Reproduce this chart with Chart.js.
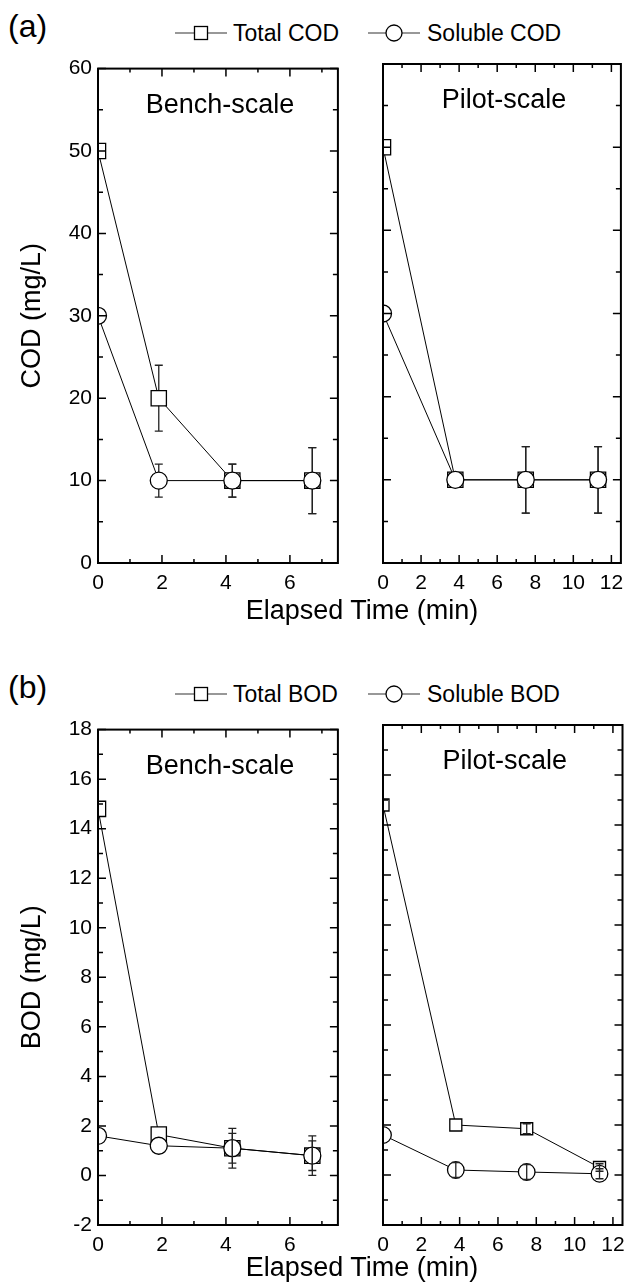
<!DOCTYPE html>
<html>
<head>
<meta charset="utf-8">
<title>COD and BOD removal</title>
<script src="https://cdn.jsdelivr.net/npm/chart.js@4.4.1/dist/chart.umd.min.js"></script>
<style>
  body { margin: 0; background: #fff; }
  #page { position: relative; width: 633px; height: 1283px; overflow: hidden; font-family: "Liberation Sans", Arial, sans-serif; color: #000; }
  canvas { position: absolute; }
  .txt { position: absolute; line-height: 1; white-space: nowrap; }
  svg { position: absolute; }
</style>
</head>
<body>
<div id="page">
  <div class="txt" style="left:8px; top:10px; font-size:32px">(a)</div>
  <svg style="left:175px; top:23px" width="52" height="20">
    <line x1="0" y1="10" x2="52" y2="10" stroke="#333" stroke-width="1.2"/>
    <rect x="19.5" y="3.5" width="13" height="13" fill="#fff" stroke="#000" stroke-width="1.3"/>
  </svg>
  <div class="txt" style="left:233px; top:21.5px; font-size:23px">Total COD</div>
  <svg style="left:368px; top:23px" width="52" height="20">
    <line x1="0" y1="10" x2="52" y2="10" stroke="#333" stroke-width="1.2"/>
    <circle cx="26" cy="10" r="8" fill="#fff" stroke="#000" stroke-width="1.3"/>
  </svg>
  <div class="txt" style="left:427px; top:21.5px; font-size:23px">Soluble COD</div>
  <canvas id="codBench" width="350" height="550" style="left:0; top:50px"></canvas>
  <canvas id="codPilot" width="283" height="550" style="left:350px; top:50px"></canvas>
  <div class="txt" style="left:362px; top:597px; font-size:27px; transform:translateX(-50%)">Elapsed Time (min)</div>

  <div class="txt" style="left:8px; top:671px; font-size:32px">(b)</div>
  <svg style="left:175px; top:684px" width="52" height="20">
    <line x1="0" y1="10" x2="52" y2="10" stroke="#333" stroke-width="1.2"/>
    <rect x="19.5" y="3.5" width="13" height="13" fill="#fff" stroke="#000" stroke-width="1.3"/>
  </svg>
  <div class="txt" style="left:233px; top:682.5px; font-size:23px">Total BOD</div>
  <svg style="left:368px; top:684px" width="52" height="20">
    <line x1="0" y1="10" x2="52" y2="10" stroke="#333" stroke-width="1.2"/>
    <circle cx="26" cy="10" r="8" fill="#fff" stroke="#000" stroke-width="1.3"/>
  </svg>
  <div class="txt" style="left:427px; top:682.5px; font-size:23px">Soluble BOD</div>
  <canvas id="bodBench" width="350" height="551" style="left:0; top:711px"></canvas>
  <canvas id="bodPilot" width="283" height="551" style="left:350px; top:711px"></canvas>
  <div class="txt" style="left:362px; top:1254px; font-size:27px; transform:translateX(-50%)">Elapsed Time (min)</div>
</div>
<script>
// sampling times (min)
const benchTime = [0, 1.9, 4.2, 6.7]
const pilotTime = [0, 3.8, 7.5, 11.3]

// COD (mg/L), with error bar half lengths
const benchTotalCOD = [50, 20, 10, 10]
const benchTotalCODErr = [0, 4, 2, 4]
const benchSolubleCOD = [30, 10, 10, 10]
const benchSolubleCODErr = [0, 2, 2, 4]
const pilotTotalCOD = [50, 10, 10, 10]
const pilotTotalCODErr = [0, 0, 4, 4]
const pilotSolubleCOD = [30, 10, 10, 10]
const pilotSolubleCODErr = [0, 0, 4, 4]

// BOD (mg/L), with error bar half lengths
const benchTotalBOD = [14.8, 1.65, 1.1, 0.8]
const benchTotalBODErr = [0, 0, 0.8, 0.8]
const benchSolubleBOD = [1.6, 1.2, 1.1, 0.8]
const benchSolubleBODErr = [0, 0, 0.6, 0.6]
const pilotTotalBOD = [14.8, 2.0, 1.85, 0.3]
const pilotTotalBODErr = [0, 0, 0.2, 0.15]
const pilotSolubleBOD = [1.6, 0.2, 0.12, 0.05]
const pilotSolubleBODErr = [0, 0.3, 0.3, 0.2]

Chart.defaults.font.family = '"Liberation Sans", Arial, sans-serif'
Chart.defaults.color = '#000'

function toPoints(xs, ys) {
    return xs.map((x, i) => ({x: x, y: ys[i]}))
}

function series(label, xs, ys, errs, shape, radius, order) {
    return {
        label: label,
        data: toPoints(xs, ys),
        errors: errs,
        borderColor: '#000',
        borderWidth: 1,
        pointStyle: shape,
        pointRadius: radius,
        pointHoverRadius: radius,
        pointBorderWidth: 1.3,
        pointBackgroundColor: '#fff',
        pointBorderColor: '#000',
        tension: 0,
        fill: false,
        clip: 0,
        order: order
    }
}

// box round the plot area, inward ticks on all four sides, panel name
const frame = {
    id: 'frame',
    afterDraw(chart, args, opts) {
        let ctx = chart.ctx
        let a = chart.chartArea
        let xs = chart.scales.x
        let ys = chart.scales.y
        ctx.save()
        ctx.strokeStyle = '#000'
        ctx.lineWidth = 1.5
        ctx.beginPath()
        xs.ticks.forEach(t => {
            let p = xs.getPixelForValue(t.value)
            let len = t.value % opts.xMajor === 0 ? 8 : 4
            ctx.moveTo(p, a.bottom)
            ctx.lineTo(p, a.bottom - len)
            ctx.moveTo(p, a.top)
            ctx.lineTo(p, a.top + len)
        })
        ys.ticks.forEach(t => {
            let p = ys.getPixelForValue(t.value)
            let len = t.value % opts.yMajor === 0 ? 8 : 5
            ctx.moveTo(a.left, p)
            ctx.lineTo(a.left + len, p)
            ctx.moveTo(a.right, p)
            ctx.lineTo(a.right - len, p)
        })
        ctx.stroke()
        ctx.lineWidth = 2
        ctx.strokeRect(a.left, a.top, a.right - a.left, a.bottom - a.top)
        ctx.fillStyle = '#000'
        ctx.font = '27px "Liberation Sans", Arial, sans-serif'
        ctx.textAlign = 'center'
        ctx.textBaseline = 'alphabetic'
        ctx.fillText(opts.label, (a.left + a.right) / 2 + 2, a.top + 44)
        ctx.restore()
    }
}

function drawErrorBars(chart) {
    let ctx = chart.ctx
    let ys = chart.scales.y
    ctx.save()
    ctx.strokeStyle = '#222'
    ctx.lineWidth = 1.3
    chart.data.datasets.forEach((ds, i) => {
        let meta = chart.getDatasetMeta(i)
        ds.errors.forEach((e, j) => {
            if (!e) return
            let x = meta.data[j].x
            let v = ds.data[j].y
            let top = ys.getPixelForValue(v + e)
            let bot = ys.getPixelForValue(v - e)
            ctx.beginPath()
            ctx.moveTo(x, top)
            ctx.lineTo(x, bot)
            ctx.moveTo(x - 4, top)
            ctx.lineTo(x + 4, top)
            ctx.moveTo(x - 4, bot)
            ctx.lineTo(x + 4, bot)
            ctx.stroke()
        })
    })
    ctx.restore()
}

const errorBars = {
    id: 'errorBars',
    beforeDatasetsDraw(chart, args, opts) {
        if (!opts.onTop) drawErrorBars(chart)
    },
    afterDatasetsDraw(chart, args, opts) {
        if (opts.onTop) drawErrorBars(chart)
    }
}

function makePanel(id, p) {
    return new Chart(document.getElementById(id), {
        type: 'line',
        data: { datasets: p.datasets },
        options: {
            responsive: false,
            animation: false,
            events: [],
            layout: { padding: { top: 14, right: p.padRight, left: 0, bottom: 0 } },
            plugins: {
                legend: { display: false },
                tooltip: { enabled: false },
                frame: { xMajor: 2, yMajor: p.yMajor, label: p.label },
                errorBars: { onTop: p.barsOnTop }
            },
            scales: {
                x: {
                    type: 'linear',
                    min: 0,
                    max: p.xMax,
                    grid: { display: false, drawTicks: false },
                    border: { display: false },
                    ticks: {
                        stepSize: 1,
                        includeBounds: false,
                        autoSkip: false,
                        maxRotation: 0,
                        padding: 8,
                        font: { size: 21 },
                        callback: v => v % 2 === 0 ? v : ''
                    },
                    afterFit: s => { s.height = 37 }
                },
                y: {
                    type: 'linear',
                    min: p.yMin,
                    max: p.yMax,
                    grid: { display: false, drawTicks: false },
                    border: { display: false },
                    ticks: {
                        display: p.showY,
                        stepSize: p.yStep,
                        includeBounds: false,
                        autoSkip: false,
                        padding: 6,
                        font: { size: 21 },
                        callback: v => v % p.yMajor === 0 ? v : ''
                    },
                    title: {
                        display: p.showY,
                        text: p.yTitle,
                        font: { size: 27 },
                        padding: { top: 16, bottom: 0 }
                    },
                    afterFit: s => { s.width = p.yWidth }
                }
            }
        },
        plugins: [frame, errorBars]
    })
}

// (a) COD
makePanel('codBench', {
    label: 'Bench-scale', xMax: 7.5, yMin: 0, yMax: 60, yStep: 5, yMajor: 10,
    showY: true, yTitle: 'COD (mg/L)', yWidth: 98, padRight: 7, barsOnTop: false,
    datasets: [
        series('Total COD', benchTime, benchTotalCOD, benchTotalCODErr, 'rect', 10.8, 2),
        series('Soluble COD', benchTime, benchSolubleCOD, benchSolubleCODErr, 'circle', 8.5, 1)
    ]
})
makePanel('codPilot', {
    label: 'Pilot-scale', xMax: 12.5, yMin: 0, yMax: 60, yStep: 5, yMajor: 10,
    showY: false, yTitle: '', yWidth: 33, padRight: 5, barsOnTop: false,
    datasets: [
        series('Total COD', pilotTime, pilotTotalCOD, pilotTotalCODErr, 'rect', 10.8, 2),
        series('Soluble COD', pilotTime, pilotSolubleCOD, pilotSolubleCODErr, 'circle', 8.5, 1)
    ]
})

// (b) BOD
makePanel('bodBench', {
    label: 'Bench-scale', xMax: 7.5, yMin: -2, yMax: 18, yStep: 1, yMajor: 2,
    showY: true, yTitle: 'BOD (mg/L)', yWidth: 98, padRight: 7, barsOnTop: true,
    datasets: [
        series('Total BOD', benchTime, benchTotalBOD, benchTotalBODErr, 'rect', 10.8, 2),
        series('Soluble BOD', benchTime, benchSolubleBOD, benchSolubleBODErr, 'circle', 8.5, 1)
    ]
})
makePanel('bodPilot', {
    label: 'Pilot-scale', xMax: 12.5, yMin: -2, yMax: 18, yStep: 1, yMajor: 2,
    showY: false, yTitle: '', yWidth: 33, padRight: 5, barsOnTop: true,
    datasets: [
        series('Total BOD', pilotTime, pilotTotalBOD, pilotTotalBODErr, 'rect', 8.5, 2),
        series('Soluble BOD', pilotTime, pilotSolubleBOD, pilotSolubleBODErr, 'circle', 8.3, 1)
    ]
})
</script>
</body>
</html>
